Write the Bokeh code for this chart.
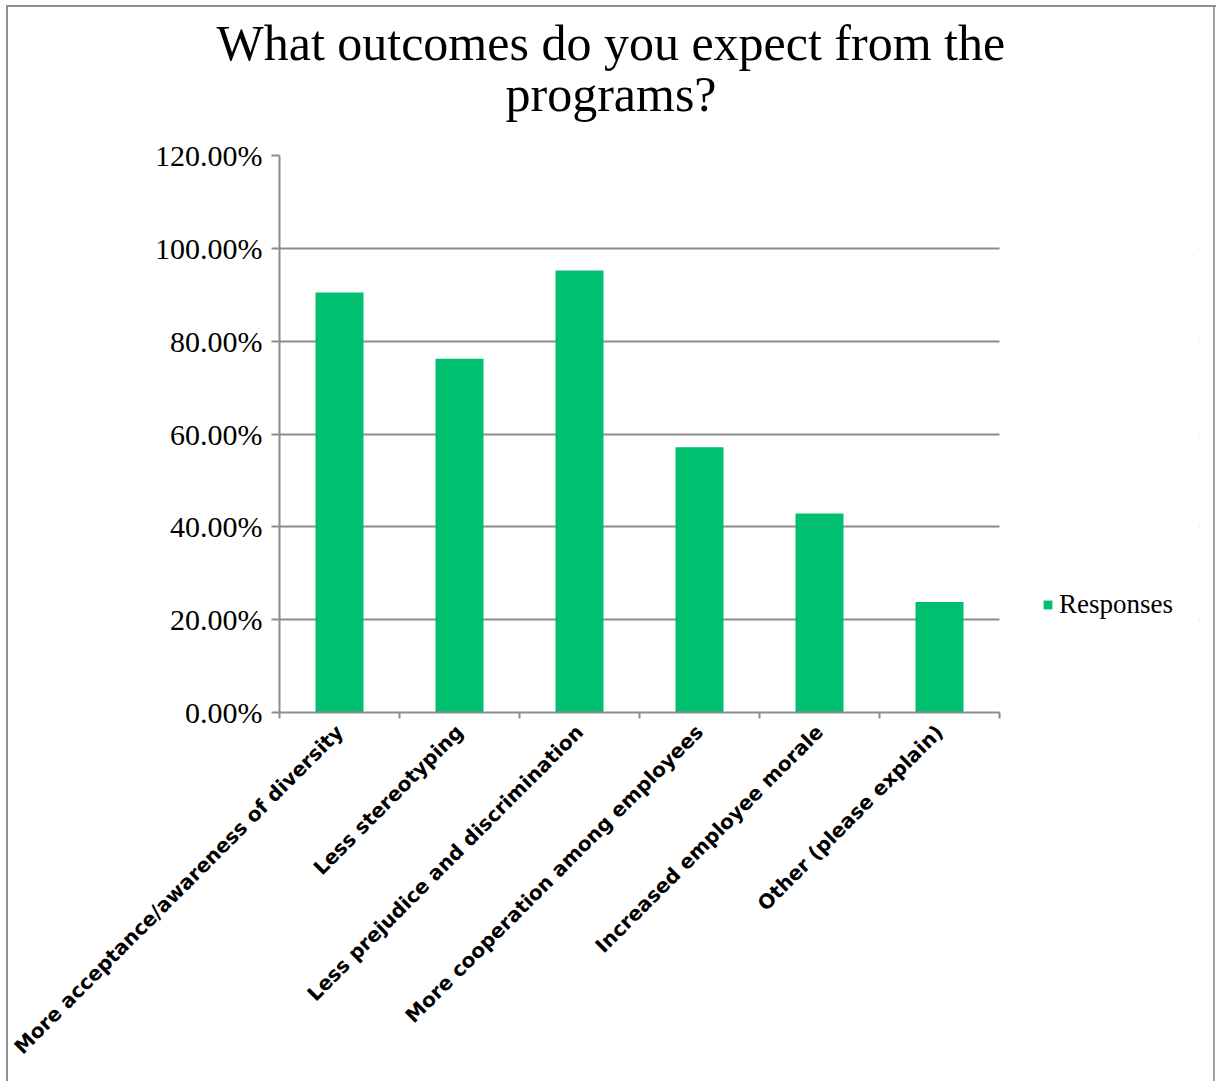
import math
from bokeh.plotting import figure
from bokeh.models import (Range1d, FixedTicker, LinearAxis, Legend, LegendItem,
                          ColumnDataSource, PrintfTickFormatter, Grid, Title, BoxAnnotation)
from bokeh.embed import file_html
from bokeh.resources import INLINE

categories = [
    "More acceptance/awareness of diversity",
    "Less stereotyping",
    "Less prejudice and discrimination",
    "More cooperation among employees",
    "Increased employee morale",
    "Other (please explain)",
]
responses = [90.48, 76.19, 95.24, 57.14, 42.86, 23.81]
y_ticks = [0, 20, 40, 60, 80, 100, 120]
title_lines = ["What outcomes do you expect from the", "programs?"]
series_name = "Responses"

GREEN = "#00BF6F"
GRAY = "#8c8c8c"

# layout (pixels)
W, H = 1216, 1081
FRAME_LEFT, FRAME_TOP, FRAME_BOTTOM = 279, 155, 712
BAR_AREA_PX = 720          # width of the category area
FRAME_RIGHT = 1199         # frame extended so the legend can sit inside it

n = len(categories)
x_end = n * (FRAME_RIGHT - FRAME_LEFT) / BAR_AREA_PX

positions = [i + 0.5 for i in range(n)]
boundaries = list(range(n + 1))
src = ColumnDataSource(dict(x=positions, top=responses, cat=categories))

p = figure(width=W, height=H,
           x_range=Range1d(0, x_end), y_range=Range1d(0, 120),
           output_backend="svg", toolbar_location=None,
           x_axis_type=None, y_axis_type=None,
           min_border_left=FRAME_LEFT, min_border_right=W - FRAME_RIGHT,
           min_border_top=FRAME_TOP, min_border_bottom=H - FRAME_BOTTOM)
p.outline_line_color = None
p.background_fill_color = "white"
p.border_fill_color = None
p.styles = {"box-shadow": ("inset 6px 5px 0 0 white, inset 8px 7px 0 0 #8f8f8f, "
                           "inset -1px 0 0 0 white, inset -3px 0 0 0 #a0a0a0")}

# two centred title lines (outermost added last)
t2 = Title(text=title_lines[1], align="left", offset=226,
           text_font="Liberation Serif", text_font_size="50px",
           text_font_style="normal", text_color="black", standoff=67)
t1 = Title(text=title_lines[0], align="left", offset=-63,
           text_font="Liberation Serif", text_font_size="50px",
           text_font_style="normal", text_color="black", standoff=-80)
p.add_layout(t2, "above")
p.add_layout(t1, "above")

yticker = FixedTicker(ticks=y_ticks)
yaxis = LinearAxis(ticker=yticker, formatter=PrintfTickFormatter(format="%.2f%%"))
yaxis.major_label_text_font = "Liberation Serif"
yaxis.major_label_text_font_size = "30px"
yaxis.major_label_text_color = "black"
yaxis.axis_line_color = GRAY
yaxis.axis_line_width = 2
yaxis.major_tick_line_color = GRAY
yaxis.major_tick_line_width = 2
yaxis.major_tick_out = 8
yaxis.major_tick_in = 0
yaxis.minor_tick_line_color = None
yaxis.major_label_standoff = 9
p.add_layout(yaxis, "left")

xticker = FixedTicker(ticks=positions, minor_ticks=boundaries)
xaxis = LinearAxis(ticker=xticker, bounds=(0, n),
                   major_label_overrides={pos: c for pos, c in zip(positions, categories)})
xaxis.major_label_orientation = math.pi / 4
xaxis.major_label_text_font = "DejaVu Sans"
xaxis.major_label_text_font_style = "bold"
xaxis.major_label_text_font_size = "20px"
xaxis.major_label_text_color = "black"
xaxis.axis_line_color = GRAY
xaxis.axis_line_width = 2
xaxis.major_tick_line_color = None
xaxis.major_tick_out = 0
xaxis.major_tick_in = 0
xaxis.minor_tick_line_color = GRAY
xaxis.minor_tick_line_width = 2
xaxis.minor_tick_out = 6
xaxis.minor_tick_in = 0
xaxis.major_label_standoff = 10
p.add_layout(xaxis, "below")

p.add_layout(Grid(dimension=1, ticker=yticker, grid_line_color=GRAY, grid_line_width=2))
# blank out the gridlines to the right of the category area (legend zone)
p.add_layout(BoxAnnotation(left=n, fill_color="white", fill_alpha=1.0,
                           line_color=None, level="underlay"))

bars = p.vbar(x="x", top="top", width=0.4, bottom=0, source=src,
              fill_color=GREEN, line_color=None)

legend = Legend(items=[LegendItem(label=series_name, renderers=[bars])],
                location=(763, 92), padding=0, margin=0, spacing=0,
                glyph_width=11, glyph_height=11, label_standoff=6,
                label_text_font="Liberation Serif", label_text_font_size="27px",
                label_text_color="black",
                border_line_color=None, background_fill_alpha=0)
p.add_layout(legend)

open("out.html", "w").write(file_html(p, INLINE))
